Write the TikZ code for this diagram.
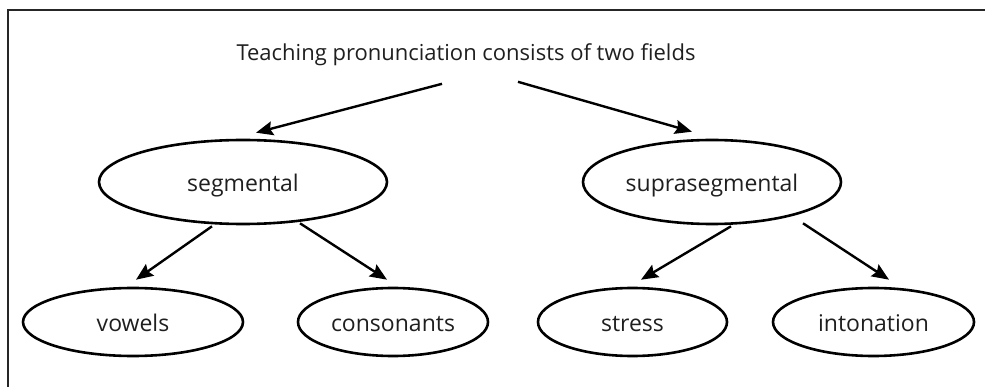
\documentclass[tikz,border=0pt]{standalone}
\usepackage{fontspec}
\setmainfont{Open Sans}
\usetikzlibrary{shapes.geometric,arrows.meta,calc}
\begin{document}
\begin{tikzpicture}[x=1pt,y=-1pt,
  lbl/.style={font=\fontsize{23}{28}\selectfont,text=black!88},
  oval/.style={ellipse,draw,line width=2.6pt,inner sep=0pt,lbl,text height=22pt,text depth=3pt},
  big/.style={oval,minimum height=84pt},
  small/.style={oval,minimum height=68pt},
  arr/.style={line width=2.4pt,-{Stealth[length=17pt,width=14pt,inset=2.5pt]}},
  frame/.style={line width=2pt,draw=black!85}]
\useasboundingbox (0,0) rectangle (985,387);
\draw[frame] (8,387) -- (8,10) -- (985,10);
\node[lbl,anchor=base,font=\fontsize{22}{26}\selectfont] (title) at (466,61) {Teaching pronunciation consists of two fields};
\node[big,minimum width=288pt] (seg) at (243,182) {segmental};
\node[big,minimum width=258pt] (sup) at (712,182) {suprasegmental};
\node[small,minimum width=220pt] (vow) at (133,322) {vowels};
\node[small,minimum width=190pt] (con) at (393,322) {consonants};
\node[small,minimum width=189pt] (str) at (632.5,322) {stress};
\node[small,minimum width=201pt] (int) at (873.5,322) {intonation};
\draw[arr] ($(title.south)+(-24,14)$) -- ($(seg.north)+(13,-6)$);
\draw[arr] ($(title.south)+(52,12)$) -- ($(sup.north)+(-20,-7)$);
\draw[arr] ($(seg.south)+(-31,1)$) -- ($(vow.north)+(3,-7)$);
\draw[arr] ($(seg.south)+(57,-2)$) -- ($(con.north)+(-6,-7)$);
\draw[arr] ($(sup.south)+(19,1)$) -- ($(str.north)+(8.5,-7)$);
\draw[arr] ($(sup.south)+(91,-2)$) -- ($(int.north)+(15.5,-7)$);
\end{tikzpicture}
\end{document}
